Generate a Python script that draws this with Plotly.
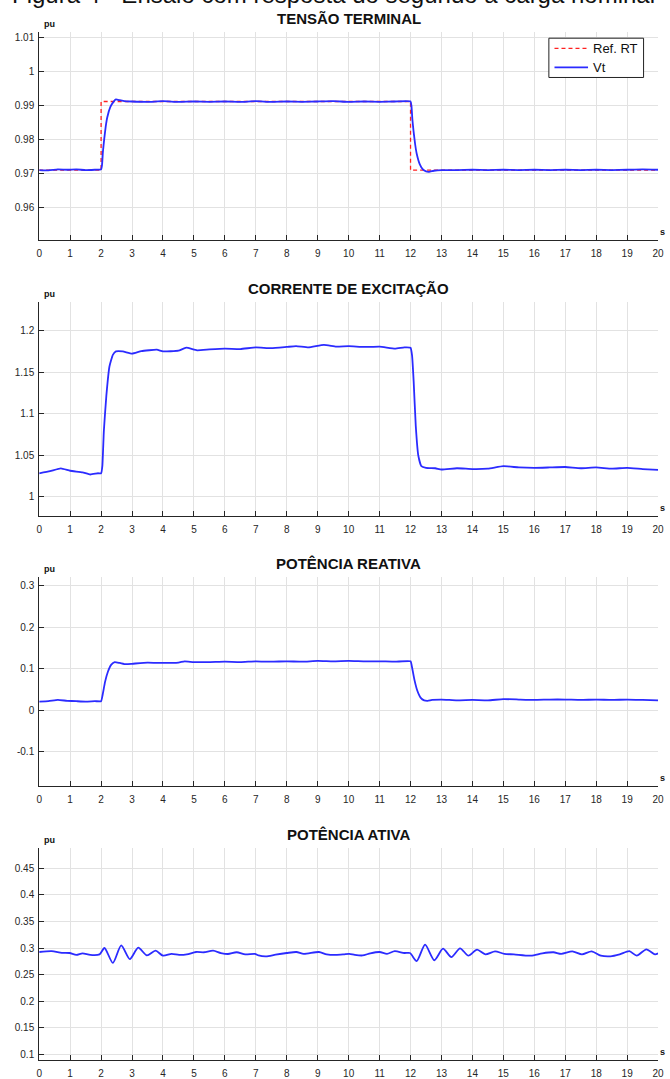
import plotly.graph_objects as go

# ---------------- data ----------------
# Terminal voltage (pu) and voltage reference
t_vt = [0, 0.3, 0.6, 0.9, 1.2, 1.5, 1.8, 2.0, 2.03, 2.06, 2.1, 2.15, 2.2, 2.3, 2.4, 2.48,
        2.6, 2.75, 3.0, 3.5, 4.0, 4.5, 5.0, 5.5, 6.0, 6.5, 7.0, 7.5, 8.0, 8.5, 9.0, 9.5,
        10.0, 10.5, 11.0, 11.5, 12.0, 12.03, 12.06, 12.1, 12.15, 12.2, 12.3, 12.4, 12.5,
        12.6, 12.75, 13.0, 13.5, 14.0, 14.5, 15.0, 15.5, 16.0, 16.5, 17.0, 17.5, 18.0,
        18.5, 19.0, 19.5, 20.0]
vt = [0.9710, 0.9709, 0.9712, 0.9711, 0.9712, 0.9710, 0.9711, 0.9712, 0.9725, 0.9765,
      0.9800, 0.9838, 0.9865, 0.9895, 0.9910, 0.9917, 0.9915, 0.9912, 0.9911, 0.9910,
      0.9912, 0.9910, 0.9911, 0.9910, 0.9911, 0.9910, 0.9912, 0.9910, 0.9911, 0.9910,
      0.9911, 0.9912, 0.9910, 0.9911, 0.9910, 0.9911, 0.9911, 0.9898, 0.9858, 0.9822,
      0.9785, 0.9758, 0.9727, 0.9712, 0.9706, 0.9705, 0.9708, 0.9710, 0.9710, 0.9711,
      0.9710, 0.9711, 0.9710, 0.9711, 0.9710, 0.9711, 0.9710, 0.9711, 0.9710, 0.9711,
      0.9712, 0.9711]
t_ref = [0, 2, 2, 12, 12, 20]
ref_rt = [0.971, 0.971, 0.9911, 0.9911, 0.971, 0.971]

# Field (excitation) current (pu)
t_ifd = [0, 0.35, 0.7, 1.0, 1.4, 1.65, 1.9, 2.0, 2.04, 2.09, 2.17, 2.27, 2.38, 2.48, 2.7,
         3.0, 3.3, 3.8, 4.0, 4.5, 4.75, 5.1, 5.5, 6.0, 6.5, 7.0, 7.5, 8.0, 8.3, 8.7, 9.2,
         9.6, 10.0, 10.5, 11.0, 11.5, 11.8, 12.0, 12.05, 12.1, 12.17, 12.25, 12.35, 12.5,
         12.8, 13.0, 13.5, 14.0, 14.5, 15.0, 15.5, 16.0, 16.5, 17.0, 17.5, 18.0, 18.5,
         19.0, 19.5, 20.0]
ifd = [1.0284, 1.0310, 1.0344, 1.0315, 1.0296, 1.0270, 1.0285, 1.0284, 1.0370, 1.0800,
       1.1220, 1.1570, 1.1710, 1.1752, 1.1752, 1.1725, 1.1755, 1.1772, 1.1752, 1.1760,
       1.1796, 1.1765, 1.1775, 1.1785, 1.1780, 1.1800, 1.1790, 1.1805, 1.1815, 1.1800,
       1.1830, 1.1810, 1.1815, 1.1805, 1.1810, 1.1785, 1.1800, 1.1795, 1.1700, 1.1400,
       1.0850, 1.0500, 1.0370, 1.0350, 1.0345, 1.0330, 1.0345, 1.0335, 1.0340, 1.0370,
       1.0355, 1.0350, 1.0355, 1.0360, 1.0345, 1.0355, 1.0340, 1.0350, 1.0335, 1.0325]

# Reactive power (pu)
t_q = [0, 0.3, 0.6, 0.9, 1.2, 1.5, 1.8, 2.0, 2.05, 2.13, 2.22, 2.33, 2.44, 2.6, 2.8, 3.0,
       3.5, 4.0, 4.5, 4.7, 5.0, 5.5, 6.0, 6.5, 7.0, 7.5, 8.0, 8.5, 9.0, 9.5, 10.0, 10.5,
       11.0, 11.5, 12.0, 12.05, 12.13, 12.22, 12.33, 12.44, 12.55, 12.7, 13.0, 13.5, 14.0,
       14.5, 15.0, 15.5, 16.0, 16.5, 17.0, 17.5, 18.0, 18.5, 19.0, 19.5, 20.0]
q = [0.021, 0.022, 0.025, 0.023, 0.022, 0.021, 0.022, 0.022, 0.0375, 0.069, 0.093, 0.110,
     0.116, 0.114, 0.111, 0.112, 0.115, 0.114, 0.115, 0.118, 0.116, 0.116, 0.117, 0.116,
     0.118, 0.117, 0.118, 0.117, 0.119, 0.118, 0.119, 0.118, 0.118, 0.117, 0.118, 0.103,
     0.072, 0.047, 0.030, 0.024, 0.023, 0.025, 0.026, 0.024, 0.025, 0.024, 0.027, 0.026,
     0.025, 0.026, 0.026, 0.025, 0.026, 0.025, 0.026, 0.025, 0.024]

# Active power (pu)
t_p = [0, 0.4, 0.73, 0.98, 1.2, 1.4, 1.65, 1.95, 2.11, 2.38, 2.65, 2.93, 3.2, 3.48, 3.76,
       4.0, 4.28, 4.52, 4.77, 5.07, 5.32, 5.62, 5.87, 6.1, 6.38, 6.66, 6.97, 7.09, 7.33,
       7.64, 8.0, 8.31, 8.55, 9.04, 9.29, 9.59, 9.84, 10.02, 10.2, 10.45, 10.7, 11.0,
       11.24, 11.49, 11.8, 11.98, 12.2, 12.47, 12.77, 13.05, 13.32, 13.6, 13.87, 14.15,
       14.42, 14.73, 15.03, 15.34, 15.89, 16.26, 16.62, 16.87, 17.23, 17.54, 17.85, 18.15,
       18.46, 18.76, 19.07, 19.31, 19.62, 19.9, 20.0]
p = [0.2925, 0.294, 0.291, 0.2906, 0.287, 0.290, 0.287, 0.288, 0.300, 0.272, 0.305, 0.279,
     0.3006, 0.286, 0.295, 0.2856, 0.289, 0.287, 0.288, 0.2925, 0.292, 0.295, 0.2906,
     0.2887, 0.292, 0.288, 0.289, 0.286, 0.2843, 0.2875, 0.2906, 0.2925, 0.289, 0.2925,
     0.288, 0.287, 0.288, 0.289, 0.287, 0.286, 0.290, 0.2925, 0.289, 0.294, 0.2906,
     0.2906, 0.2755, 0.3063, 0.277, 0.2987, 0.283, 0.2994, 0.2856, 0.297, 0.288, 0.2937,
     0.289, 0.288, 0.2856, 0.290, 0.292, 0.289, 0.2937, 0.288, 0.2937, 0.2856, 0.2843,
     0.288, 0.294, 0.2856, 0.2975, 0.288, 0.290]

# Axis ticks and labels
x_ticks = list(range(0, 21))
x_labels = [str(v) for v in x_ticks]
vt_ticks = [0.96, 0.97, 0.98, 0.99, 1.0, 1.01]
vt_labels = ["0.96", "0.97", "0.98", "0.99", "1", "1.01"]
ifd_ticks = [1.0, 1.05, 1.1, 1.15, 1.2]
ifd_labels = ["1", "1.05", "1.1", "1.15", "1.2"]
q_ticks = [-0.1, 0.0, 0.1, 0.2, 0.3]
q_labels = ["-0.1", "0", "0.1", "0.2", "0.3"]
p_ticks = [0.1, 0.15, 0.2, 0.25, 0.3, 0.35, 0.4, 0.45]
p_labels = ["0.1", "0.15", "0.2", "0.25", "0.3", "0.35", "0.4", "0.45"]

titles = ["TENSÃO TERMINAL", "CORRENTE DE EXCITAÇÃO", "POTÊNCIA REATIVA", "POTÊNCIA ATIVA"]
legend_names = ["Ref. RT", "Vt"]
caption = "Figura 4 - Ensaio com resposta do segundo a carga nominal"

# ---------------- styling ----------------
W, H = 670, 1079
FONT = "Arial, Liberation Sans, Helvetica, sans-serif"
AX = "#262626"
GRID = "#e2e2e2"
BLUE = "#2b2bff"
RED = "#ff2020"
RED_DASH = "4px,3px"

x_px = (36.7, 664.0)
panels_px = [(31.7, 241.0), (302.7, 517.3), (578.3, 787.7), (850.0, 1063.3)]
y_ranges = [(0.9504, 1.0116), (0.9772, 1.2348), (-0.1809, 0.3216), (0.0887, 0.4888)]
y_ticks = [(vt_ticks, vt_labels), (ifd_ticks, ifd_labels), (q_ticks, q_labels), (p_ticks, p_labels)]


def px_x(v):
    return v / W


def px_y(v):
    return 1 - v / H


fig = go.Figure()

fig.add_trace(go.Scatter(x=t_ref, y=ref_rt, mode="lines", name=legend_names[0],
                         line=dict(color=RED, width=1.3, dash=RED_DASH),
                         xaxis="x", yaxis="y"))
fig.add_trace(go.Scatter(x=t_vt, y=vt, mode="lines", name=legend_names[1],
                         line=dict(color=BLUE, width=1.8, shape="spline", smoothing=0.4),
                         xaxis="x", yaxis="y"))
fig.add_trace(go.Scatter(x=t_ifd, y=ifd, mode="lines",
                         line=dict(color=BLUE, width=1.8, shape="spline", smoothing=0.4),
                         xaxis="x2", yaxis="y2"))
fig.add_trace(go.Scatter(x=t_q, y=q, mode="lines",
                         line=dict(color=BLUE, width=1.8, shape="spline", smoothing=0.4),
                         xaxis="x3", yaxis="y3"))
fig.add_trace(go.Scatter(x=t_p, y=p, mode="lines",
                         line=dict(color=BLUE, width=1.8, shape="spline", smoothing=0.7),
                         xaxis="x4", yaxis="y4"))

layout = dict(
    width=W, height=H,
    margin=dict(l=0, r=0, t=0, b=0),
    paper_bgcolor="white", plot_bgcolor="white",
    font=dict(family=FONT, size=10, color=AX),
    showlegend=False,
)

annotations = []
shapes = []
for i, ((top, bot), yr, (tv, tl), title) in enumerate(zip(panels_px, y_ranges, y_ticks, titles)):
    sfx = "" if i == 0 else str(i + 1)
    layout["xaxis" + sfx] = dict(
        domain=[px_x(x_px[0]), px_x(x_px[1])], range=[0, 20],
        anchor="y" + sfx, tickvals=x_ticks, ticktext=x_labels,
        showline=True, linecolor=AX, linewidth=1, ticks="inside", ticklen=5,
        tickcolor=AX, showgrid=True, gridcolor=GRID, gridwidth=1, zeroline=False,
        ticklabelstandoff=4, tickfont=dict(size=10, color=AX),
    )
    layout["yaxis" + sfx] = dict(
        domain=[px_y(bot), px_y(top)], range=list(yr),
        anchor="x" + sfx, tickvals=tv, ticktext=tl,
        showline=True, linecolor=AX, linewidth=1, ticks="inside", ticklen=5,
        tickcolor=AX, showgrid=True, gridcolor=GRID, gridwidth=1, zeroline=False,
        ticklabelstandoff=2, tickfont=dict(size=10, color=AX),
    )
    # panel title
    annotations.append(dict(text="<b>" + title + "</b>", xref="paper", yref="paper",
                            x=px_x((x_px[0] + x_px[1]) / 2), y=px_y(top - 3),
                            xanchor="center", yanchor="bottom", showarrow=False,
                            font=dict(family=FONT, size=15, color="#111111")))
    # unit labels
    annotations.append(dict(text="<b>pu</b>", xref="paper", yref="paper",
                            x=px_x(39.5), y=px_y(top - 1), xanchor="left", yanchor="bottom",
                            showarrow=False, font=dict(family=FONT, size=9, color="#111111")))
    annotations.append(dict(text="<b>s</b>", xref="paper", yref="paper",
                            x=px_x(664), y=px_y(bot - 1), xanchor="left", yanchor="bottom",
                            showarrow=False, font=dict(family=FONT, size=9, color="#111111")))

# compact legend box in the top-right corner of the first panel
leg_box = (553.3, 38.3, 649.3, 77.7)
shapes.append(dict(type="rect", xref="paper", yref="paper",
                   x0=px_x(leg_box[0]), x1=px_x(leg_box[2]),
                   y0=px_y(leg_box[3]), y1=px_y(leg_box[1]),
                   line=dict(color="#222222", width=1), fillcolor="white", layer="above"))
leg_rows = [(48.5, RED, RED_DASH, 1.3), (67.5, BLUE, "solid", 1.8)]
for name, (ypix, col, dash, lw) in zip(legend_names, leg_rows):
    shapes.append(dict(type="line", xref="paper", yref="paper",
                       x0=px_x(559), x1=px_x(593), y0=px_y(ypix), y1=px_y(ypix),
                       line=dict(color=col, width=lw, dash=dash), layer="above"))
    annotations.append(dict(text=name, xref="paper", yref="paper",
                            x=px_x(596.5), y=px_y(ypix), xanchor="left", yanchor="middle",
                            showarrow=False, font=dict(family=FONT, size=13, color="#111111")))

# caption line running along the top edge
annotations.append(dict(text=caption, xref="paper", yref="paper", x=0.5, y=px_y(10.5),
                        xanchor="center", yanchor="bottom", showarrow=False,
                        font=dict(family=FONT, size=24, color="#111111")))

layout["annotations"] = annotations
layout["shapes"] = shapes
fig.update_layout(**layout)

fig.write_html("out.html")
